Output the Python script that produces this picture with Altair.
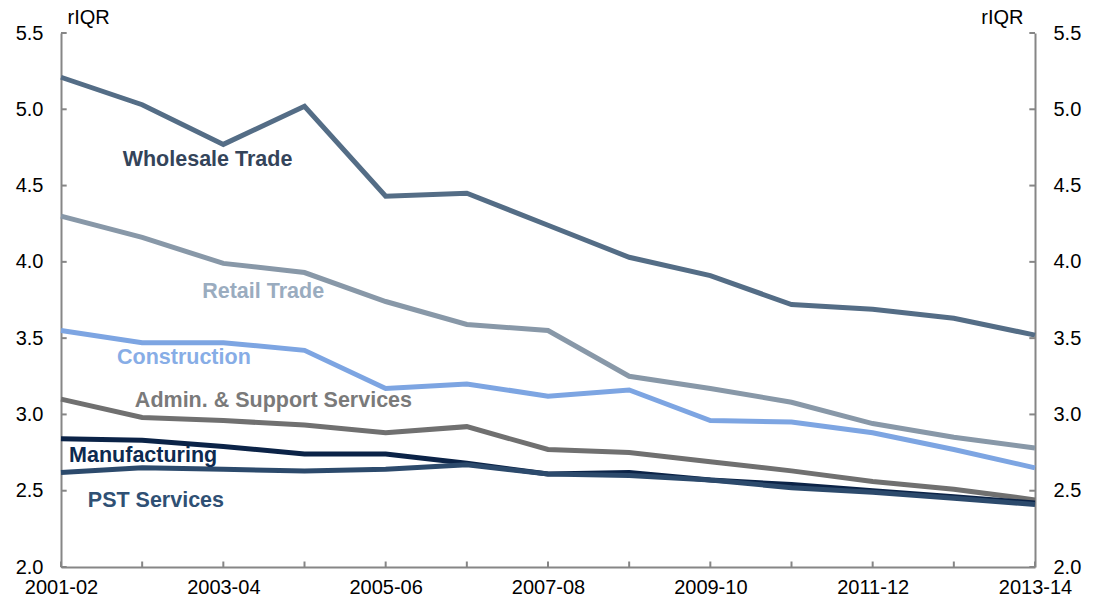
import altair as alt
import pandas as pd

years = ["2001-02", "2002-03", "2003-04", "2004-05", "2005-06", "2006-07", "2007-08",
         "2008-09", "2009-10", "2010-11", "2011-12", "2012-13", "2013-14"]

wholesale = [5.21, 5.03, 4.77, 5.02, 4.43, 4.45, 4.24, 4.03, 3.91, 3.72, 3.69, 3.63, 3.52]
retail = [4.30, 4.16, 3.99, 3.93, 3.74, 3.59, 3.55, 3.25, 3.17, 3.08, 2.94, 2.85, 2.78]
construction = [3.55, 3.47, 3.47, 3.42, 3.17, 3.20, 3.12, 3.16, 2.96, 2.95, 2.88, 2.77, 2.65]
admin = [3.10, 2.98, 2.96, 2.93, 2.88, 2.92, 2.77, 2.75, 2.69, 2.63, 2.56, 2.51, 2.44]
manufacturing = [2.84, 2.83, 2.79, 2.74, 2.74, 2.68, 2.61, 2.62, 2.57, 2.54, 2.50, 2.46, 2.42]
pst = [2.62, 2.65, 2.64, 2.63, 2.64, 2.67, 2.61, 2.60, 2.57, 2.52, 2.49, 2.45, 2.41]

series_names = ["Wholesale Trade", "Retail Trade", "Construction",
                "Admin. & Support Services", "Manufacturing", "PST Services"]
series_values = [wholesale, retail, construction, admin, manufacturing, pst]
line_colors = ["#546D86", "#8898A8", "#7DA5E2", "#707070", "#0B2347", "#2C4A6C"]
label_colors = ["#34445A", "#9AACBF", "#87ADE6", "#7A7A7A", "#0D2A50", "#2F5074"]

# label anchor positions (x as period index, y in rIQR)
label_x = [0.76, 1.74, 0.69, 0.91, 0.10, 0.33]
label_y = [4.67, 3.80, 3.37, 3.09, 2.73, 2.43]

y_ticks = [2.0, 2.5, 3.0, 3.5, 4.0, 4.5, 5.0, 5.5]
label_every = list(range(0, 13, 2))

rows = []
for name, vals in zip(series_names, series_values):
    for i, v in enumerate(vals):
        rows.append({"series": name, "idx": i, "value": v})
df = pd.DataFrame(rows)

lab_df = pd.DataFrame({"series": series_names, "x": label_x, "y": label_y,
                       "color": label_colors})

FONT = "Liberation Sans"
AXIS_COLOR = "#868686"
label_expr = "[" + ",".join("'" + y + "'" for y in years) + "][datum.value]"

xscale = alt.Scale(domain=[0, 12], nice=False, zero=False)
yscale = alt.Scale(domain=[2.0, 5.5], nice=False, zero=False)

x_axis = alt.Axis(values=label_every, labelExpr=label_expr, title=None, ticks=False,
                  grid=False, domainColor=AXIS_COLOR, domainWidth=2, labelFont=FONT,
                  labelFontSize=20, labelColor="#000000", labelPadding=10,
                  labelFlush=False, labelOverlap=False)

def y_axis(orient):
    return alt.Axis(orient=orient, values=y_ticks, format=".1f", ticks=False, grid=False,
                    domainColor=AXIS_COLOR, domainWidth=2, labelFont=FONT, labelFontSize=20,
                    labelColor="#000000", labelPadding=18, title="rIQR", titleAngle=0,
                    titleFont=FONT, titleFontSize=20, titleFontWeight="normal",
                    titleColor="#000000", titleBaseline="bottom",
                    titleAlign="left" if orient == "left" else "right",
                    titleX=6 if orient == "left" else -12, titleY=-6)

lines = alt.Chart(df).mark_line(strokeWidth=5, strokeJoin="miter").encode(
    x=alt.X("idx:Q", scale=xscale, axis=x_axis),
    y=alt.Y("value:Q", scale=yscale, axis=y_axis("left")),
    color=alt.Color("series:N", scale=alt.Scale(domain=series_names, range=line_colors),
                    legend=None),
    order=alt.Order("idx:Q"),
)

right = alt.Chart(df).mark_line(opacity=0).encode(
    x=alt.X("idx:Q", scale=xscale),
    y=alt.Y("value:Q", scale=yscale, axis=y_axis("right")),
    detail="series:N",
)

# inward tick marks
xt_df = pd.DataFrame({"idx": list(range(len(years))), "y0": [2.0] * len(years),
                      "y1": [2.036] * len(years)})
x_ticks = alt.Chart(xt_df).mark_rule(color=AXIS_COLOR, strokeWidth=2).encode(
    x=alt.X("idx:Q", scale=xscale),
    y=alt.Y("y0:Q", scale=yscale, axis=None), y2="y1:Q")

yt_df = pd.DataFrame({"v": y_ticks * 2,
                      "x0": [0.0] * len(y_ticks) + [12.0] * len(y_ticks),
                      "x1": [0.07] * len(y_ticks) + [11.93] * len(y_ticks)})
y_tick_marks = alt.Chart(yt_df).mark_rule(color=AXIS_COLOR, strokeWidth=2).encode(
    y=alt.Y("v:Q", scale=yscale, axis=None),
    x=alt.X("x0:Q", scale=xscale), x2="x1:Q")

labels = alt.Chart(lab_df).mark_text(align="left", baseline="middle", font=FONT,
                                     fontSize=21.5, fontWeight="bold").encode(
    x=alt.X("x:Q", scale=xscale),
    y=alt.Y("y:Q", scale=yscale, axis=None),
    text="series:N",
    color=alt.Color("color:N", scale=None),
)

chart = alt.layer(lines, right, x_ticks, y_tick_marks, labels).resolve_scale(
    y="independent", color="independent"
).properties(
    width=974, height=534,
    autosize=alt.AutoSizeParams(type="none"),
    padding={"left": 61, "top": 33, "right": 63, "bottom": 35},
    background="#ffffff",
).configure_view(stroke=None)

chart.save("out.html", embed_options={"renderer": "svg", "actions": False})
